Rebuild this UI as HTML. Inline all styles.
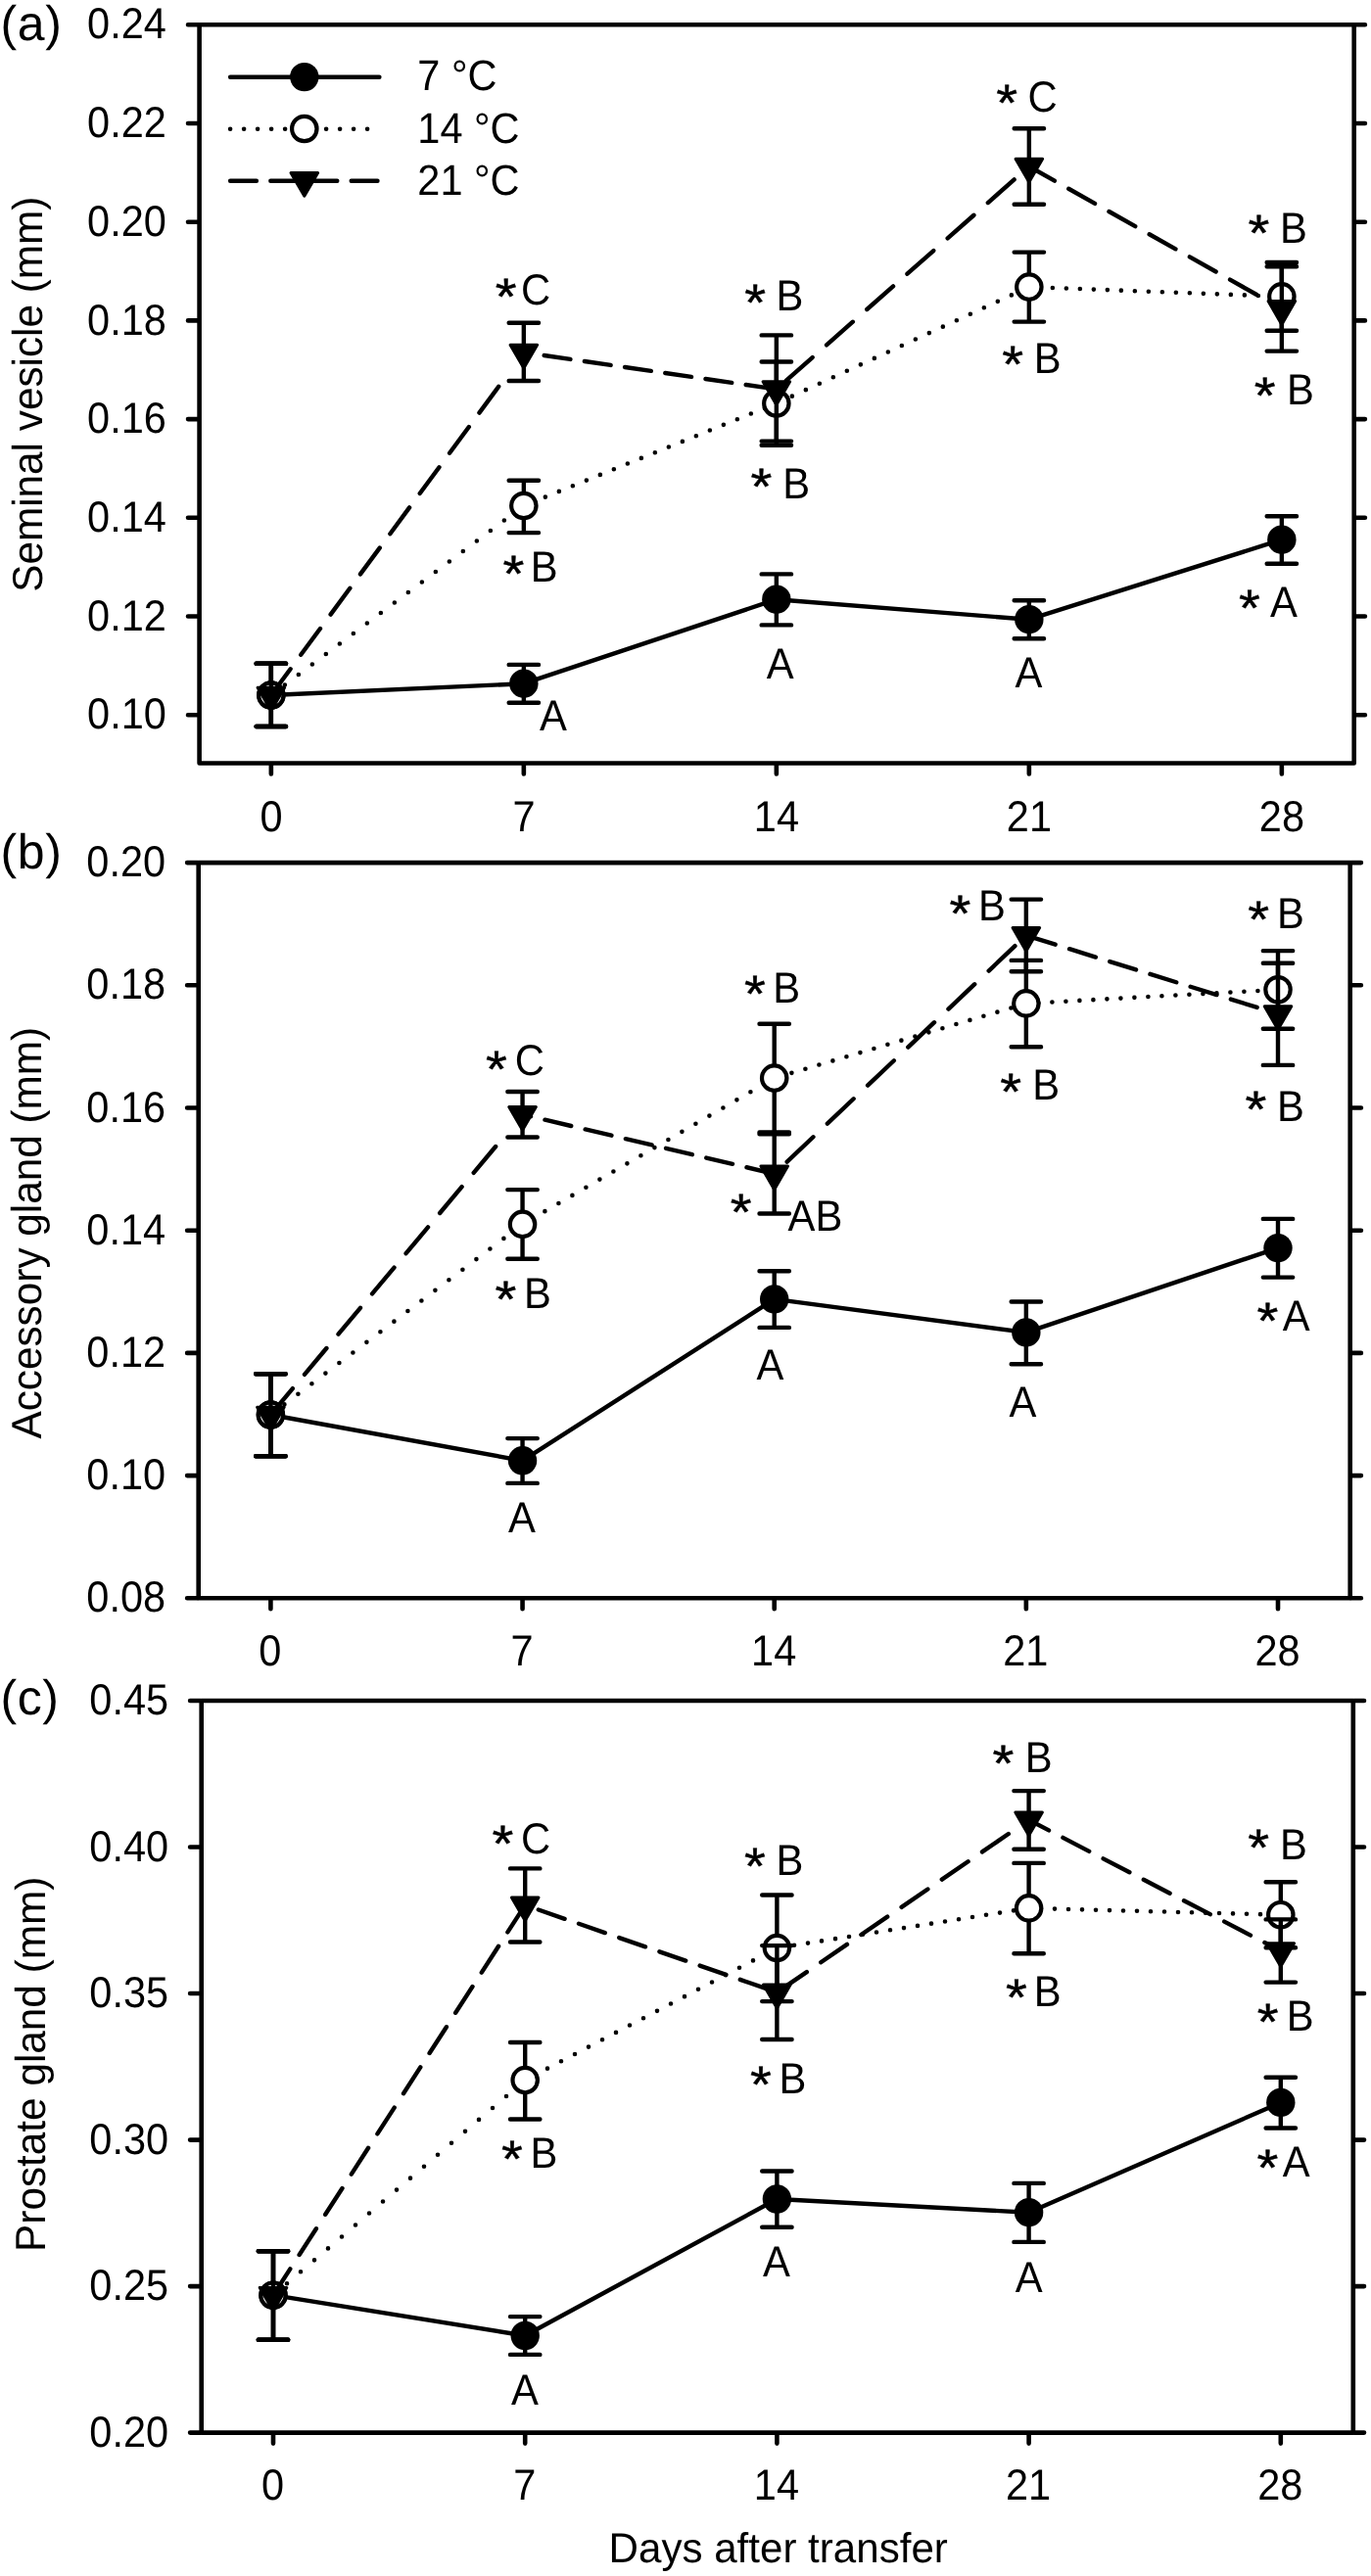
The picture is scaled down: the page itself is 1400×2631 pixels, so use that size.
<!DOCTYPE html>
<html lang="en"><head><meta charset="utf-8"><title>Figure</title>
<style>html,body{margin:0;padding:0;background:#fff}body{width:1400px;height:2631px;overflow:hidden}svg{display:block;will-change:transform}text{font-family:'Liberation Sans', sans-serif;fill:#000;-webkit-font-smoothing:antialiased;text-rendering:geometricPrecision}</style>
</head><body>
<svg width="1400" height="2631" viewBox="0 0 1400 2631">
<rect width="1400" height="2631" fill="#fff"/>
<g id="panel-a">
<g stroke="#000" fill="#000" stroke-width="4.4" stroke-linecap="round" stroke-linejoin="round">
<polyline fill="none" points="276.85,710 534.85,698.2 792.85,612.2 1050.85,632.7 1308.85,551.2"/>
<g fill="none">
<path d="M276.85 677.8V742M261.65 677.8H292.05M261.65 742H292.05"/>
<path d="M534.85 678.9V717.8M519.65 678.9H550.05M519.65 717.8H550.05"/>
<path d="M792.85 586.4V638.4M777.65 586.4H808.05M777.65 638.4H808.05"/>
<path d="M1050.85 613.2V652.3M1035.65 613.2H1066.05M1035.65 652.3H1066.05"/>
<path d="M1308.85 527.2V575.7M1293.65 527.2H1324.05M1293.65 575.7H1324.05"/>
</g>
<g stroke="none">
<circle cx="276.85" cy="710" r="14.7"/>
<circle cx="534.85" cy="698.2" r="14.7"/>
<circle cx="792.85" cy="612.2" r="14.7"/>
<circle cx="1050.85" cy="632.7" r="14.7"/>
<circle cx="1308.85" cy="551.2" r="14.7"/>
</g>
<path fill="none" stroke-width="4.6" d="M276.85 710h.01M290.85 699.5h.01M304.85 689h.01M318.85 678.5h.01M332.85 668h.01M346.85 657.5h.01M360.85 647h.01M374.85 636.5h.01M388.85 626h.01M402.85 615.5h.01M416.85 605h.01M430.85 594.5h.01M444.85 584h.01M458.85 573.5h.01M472.85 563h.01M486.85 552.5h.01M500.85 542h.01M514.85 531.5h.01M528.85 521h.01M542.85 513.26h.01M556.85 507.59h.01M570.85 501.92h.01M584.85 496.25h.01M598.85 490.58h.01M612.85 484.91h.01M626.85 479.24h.01M640.85 473.57h.01M654.85 467.9h.01M668.85 462.22h.01M682.85 456.55h.01M696.85 450.88h.01M710.85 445.21h.01M724.85 439.54h.01M738.85 433.87h.01M752.85 428.2h.01M766.85 422.53h.01M780.85 416.86h.01M794.85 411.08h.01M808.85 404.63h.01M822.85 398.17h.01M836.85 391.72h.01M850.85 385.27h.01M864.85 378.82h.01M878.85 372.37h.01M892.85 365.91h.01M906.85 359.46h.01M920.85 353.01h.01M934.85 346.56h.01M948.85 340.11h.01M962.85 333.66h.01M976.85 327.2h.01M990.85 320.75h.01M1004.85 314.3h.01M1018.85 307.85h.01M1032.85 301.4h.01M1046.85 294.94h.01M1060.85 293.48h.01M1074.85 294.01h.01M1088.85 294.54h.01M1102.85 295.07h.01M1116.85 295.59h.01M1130.85 296.12h.01M1144.85 296.65h.01M1158.85 297.18h.01M1172.85 297.71h.01M1186.85 298.24h.01M1200.85 298.77h.01M1214.85 299.3h.01M1228.85 299.83h.01M1242.85 300.36h.01M1256.85 300.88h.01M1270.85 301.41h.01M1284.85 301.94h.01M1298.85 302.47h.01"/>
<g fill="none">
<path d="M276.85 677.8V742M261.65 677.8H292.05M261.65 742H292.05"/>
<path d="M534.85 490.7V544.1M519.65 490.7H550.05M519.65 544.1H550.05"/>
<path d="M792.85 369.5V454.7M777.65 369.5H808.05M777.65 454.7H808.05"/>
<path d="M1050.85 257.6V328.6M1035.65 257.6H1066.05M1035.65 328.6H1066.05"/>
<path d="M1308.85 268V337.7M1293.65 268H1324.05M1293.65 337.7H1324.05"/>
</g>
<g fill="#fff" stroke-width="4.2">
<circle cx="276.85" cy="710" r="12.7"/>
<circle cx="534.85" cy="516.5" r="12.7"/>
<circle cx="792.85" cy="412" r="12.7"/>
<circle cx="1050.85" cy="293.1" r="12.7"/>
<circle cx="1308.85" cy="302.85" r="12.7"/>
</g>
<path fill="none" d="M276.85 710L296.61 683.2M307.22 668.8L326.98 642M337.59 627.6L357.35 600.8M367.96 586.4L387.72 559.6M398.33 545.2L418.09 518.4M428.7 504L448.46 477.2M459.07 462.8L478.83 436M489.44 421.6L509.2 394.8M534.85 360L541.25 360.93M555.65 363.02L582.45 366.92M596.85 369.01L623.65 372.91M638.05 375L664.85 378.9M679.25 380.99L706.05 384.88M720.45 386.98L747.25 390.87M761.65 392.97L788.45 396.86M802.85 388.68L829.65 365.05M844.05 352.35L870.85 328.72M885.25 316.02L912.05 292.39M926.45 279.69L953.25 256.06M967.65 243.36L994.45 219.73M1008.85 207.03L1035.65 183.4M1050.85 170L1076.85 184.65M1091.25 192.77L1118.05 207.87M1132.45 215.99L1159.25 231.09M1173.65 239.21L1200.45 254.31M1214.85 262.42L1241.65 277.53M1256.05 285.64L1282.85 300.75M1297.25 308.86L1308.85 315.4"/>
<g fill="none">
<path d="M276.85 677.8V742M261.65 677.8H292.05M261.65 742H292.05"/>
<path d="M534.85 329.8V389M519.65 329.8H550.05M519.65 389H550.05"/>
<path d="M792.85 342.4V450.6M777.65 342.4H808.05M777.65 450.6H808.05"/>
<path d="M1050.85 131.2V208.7M1035.65 131.2H1066.05M1035.65 208.7H1066.05"/>
<path d="M1308.85 272.2V358.6M1293.65 272.2H1324.05M1293.65 358.6H1324.05"/>
</g>
<g stroke-width="3" stroke-linejoin="round">
<path d="M263.05 702.2L290.65 702.2L276.85 726Z"/>
<path d="M521.05 352.2L548.65 352.2L534.85 376Z"/>
<path d="M779.05 389.7L806.65 389.7L792.85 413.5Z"/>
<path d="M1037.05 162.2L1064.65 162.2L1050.85 186Z"/>
<path d="M1295.05 307.6L1322.65 307.6L1308.85 331.4Z"/>
</g>
</g>
<rect x="203.6" y="25.3" width="1179.1" height="754.2" fill="none" stroke="#000" stroke-width="4.6" stroke-linejoin="round"/>
<path d="M202.6 25.3H192M1383.7 25.3H1393.9M202.6 126H192M1383.7 126H1393.9M202.6 226.7H192M1383.7 226.7H1393.9M202.6 327.4H192M1383.7 327.4H1393.9M202.6 428.1H192M1383.7 428.1H1393.9M202.6 528.8H192M1383.7 528.8H1393.9M202.6 629.5H192M1383.7 629.5H1393.9M202.6 730.2H192M1383.7 730.2H1393.9M276.85 780.5V790.5M534.85 780.5V790.5M792.85 780.5V790.5M1050.85 780.5V790.5M1308.85 780.5V790.5" fill="none" stroke="#000" stroke-width="4.6" stroke-linecap="round"/>
<text transform="translate(169.9 39.4) scale(1 1.07)" font-size="41.5" text-anchor="end">0.24</text>
<text transform="translate(169.9 140.1) scale(1 1.07)" font-size="41.5" text-anchor="end">0.22</text>
<text transform="translate(169.9 240.8) scale(1 1.07)" font-size="41.5" text-anchor="end">0.20</text>
<text transform="translate(169.9 341.5) scale(1 1.07)" font-size="41.5" text-anchor="end">0.18</text>
<text transform="translate(169.9 442.2) scale(1 1.07)" font-size="41.5" text-anchor="end">0.16</text>
<text transform="translate(169.9 542.9) scale(1 1.07)" font-size="41.5" text-anchor="end">0.14</text>
<text transform="translate(169.9 643.6) scale(1 1.07)" font-size="41.5" text-anchor="end">0.12</text>
<text transform="translate(169.9 744.3) scale(1 1.07)" font-size="41.5" text-anchor="end">0.10</text>
<text transform="translate(276.95 848.8) scale(1 1.07)" font-size="41.5" text-anchor="middle">0</text>
<text transform="translate(534.95 848.8) scale(1 1.07)" font-size="41.5" text-anchor="middle">7</text>
<text transform="translate(792.95 848.8) scale(1 1.07)" font-size="41.5" text-anchor="middle">14</text>
<text transform="translate(1050.95 848.8) scale(1 1.07)" font-size="41.5" text-anchor="middle">21</text>
<text transform="translate(1308.95 848.8) scale(1 1.07)" font-size="41.5" text-anchor="middle">28</text>
<text x="0.5" y="40.8" font-size="50" letter-spacing="0.6">(a)</text>
<text transform="translate(42.5 402.7) rotate(-90) scale(1 1.02)" font-size="42.3" text-anchor="middle">Seminal vesicle (mm)</text>
<text transform="translate(505.7 320.8) scale(1.02 0.956)" font-size="55" stroke="#000" stroke-width="0.5">*</text>
<text transform="translate(532 311.3) scale(1 1.06)" font-size="41.8">C</text>
<text transform="translate(513.5 604.3) scale(1.02 0.956)" font-size="55" stroke="#000" stroke-width="0.5">*</text>
<text transform="translate(541.7 594.4) scale(1 1.06)" font-size="41.8">B</text>
<text transform="translate(550.9 745.5) scale(1 1.06)" font-size="41.8">A</text>
<text transform="translate(760.3 327) scale(1.02 0.956)" font-size="55" stroke="#000" stroke-width="0.5">*</text>
<text transform="translate(792.5 317.2) scale(1 1.06)" font-size="41.8">B</text>
<text transform="translate(766.4 515.1) scale(1.02 0.956)" font-size="55" stroke="#000" stroke-width="0.5">*</text>
<text transform="translate(799.2 508.7) scale(1 1.06)" font-size="41.8">B</text>
<text transform="translate(782.7 693.3) scale(1 1.06)" font-size="41.8">A</text>
<text transform="translate(1017.2 123.2) scale(1.02 0.956)" font-size="55" stroke="#000" stroke-width="0.5">*</text>
<text transform="translate(1049.6 114.4) scale(1 1.06)" font-size="41.8">C</text>
<text transform="translate(1023.3 389.5) scale(1.02 0.956)" font-size="55" stroke="#000" stroke-width="0.5">*</text>
<text transform="translate(1055.7 380.8) scale(1 1.06)" font-size="41.8">B</text>
<text transform="translate(1036.5 702.4) scale(1 1.06)" font-size="41.8">A</text>
<text transform="translate(1274.4 256.4) scale(1.02 0.956)" font-size="55" stroke="#000" stroke-width="0.5">*</text>
<text transform="translate(1306.9 247.9) scale(1 1.06)" font-size="41.8">B</text>
<text transform="translate(1280.8 422.3) scale(1.02 0.956)" font-size="55" stroke="#000" stroke-width="0.5">*</text>
<text transform="translate(1313.9 412.9) scale(1 1.06)" font-size="41.8">B</text>
<text transform="translate(1265 638.8) scale(1.02 0.956)" font-size="55" stroke="#000" stroke-width="0.5">*</text>
<text transform="translate(1297 629.8) scale(1 1.06)" font-size="41.8">A</text>
</g>
<g id="panel-b">
<g stroke="#000" fill="#000" stroke-width="4.4" stroke-linecap="round" stroke-linejoin="round">
<polyline fill="none" points="276.4,1445 533.55,1491.8 790.7,1326.9 1047.85,1360.9 1305,1274.6"/>
<g fill="none">
<path d="M276.4 1403.2V1487.3M261.2 1403.2H291.6M261.2 1487.3H291.6"/>
<path d="M533.55 1469.1V1514.9M518.35 1469.1H548.75M518.35 1514.9H548.75"/>
<path d="M790.7 1298.2V1355.9M775.5 1298.2H805.9M775.5 1355.9H805.9"/>
<path d="M1047.85 1329.5V1393.2M1032.65 1329.5H1063.05M1032.65 1393.2H1063.05"/>
<path d="M1305 1244.9V1304.6M1289.8 1244.9H1320.2M1289.8 1304.6H1320.2"/>
</g>
<g stroke="none">
<circle cx="276.4" cy="1445" r="14.7"/>
<circle cx="533.55" cy="1491.8" r="14.7"/>
<circle cx="790.7" cy="1326.9" r="14.7"/>
<circle cx="1047.85" cy="1360.9" r="14.7"/>
<circle cx="1305" cy="1274.6" r="14.7"/>
</g>
<path fill="none" stroke-width="4.6" d="M276.4 1445h.01M290.4 1434.41h.01M304.4 1423.81h.01M318.4 1413.22h.01M332.4 1402.62h.01M346.4 1392.03h.01M360.4 1381.43h.01M374.4 1370.84h.01M388.4 1360.24h.01M402.4 1349.65h.01M416.4 1339.05h.01M430.4 1328.46h.01M444.4 1317.86h.01M458.4 1307.27h.01M472.4 1296.68h.01M486.4 1286.08h.01M500.4 1275.49h.01M514.4 1264.89h.01M528.4 1254.3h.01M542.4 1245.26h.01M556.4 1237.13h.01M570.4 1229.01h.01M584.4 1220.88h.01M598.4 1212.75h.01M612.4 1204.62h.01M626.4 1196.49h.01M640.4 1188.36h.01M654.4 1180.24h.01M668.4 1172.11h.01M682.4 1163.98h.01M696.4 1155.85h.01M710.4 1147.72h.01M724.4 1139.59h.01M738.4 1131.47h.01M752.4 1123.34h.01M766.4 1115.21h.01M780.4 1107.08h.01M794.4 1100h.01M808.4 1095.86h.01M822.4 1091.71h.01M836.4 1087.56h.01M850.4 1083.41h.01M864.4 1079.26h.01M878.4 1075.11h.01M892.4 1070.96h.01M906.4 1066.82h.01M920.4 1062.67h.01M934.4 1058.52h.01M948.4 1054.37h.01M962.4 1050.22h.01M976.4 1046.07h.01M990.4 1041.92h.01M1004.4 1037.78h.01M1018.4 1033.63h.01M1032.4 1029.48h.01M1046.4 1025.33h.01M1060.4 1024.21h.01M1074.4 1023.44h.01M1088.4 1022.68h.01M1102.4 1021.91h.01M1116.4 1021.14h.01M1130.4 1020.37h.01M1144.4 1019.61h.01M1158.4 1018.84h.01M1172.4 1018.07h.01M1186.4 1017.3h.01M1200.4 1016.54h.01M1214.4 1015.77h.01M1228.4 1015h.01M1242.4 1014.23h.01M1256.4 1013.46h.01M1270.4 1012.7h.01M1284.4 1011.93h.01M1298.4 1011.16h.01"/>
<g fill="none">
<path d="M276.4 1403.2V1487.3M261.2 1403.2H291.6M261.2 1487.3H291.6"/>
<path d="M533.55 1215.1V1285.7M518.35 1215.1H548.75M518.35 1285.7H548.75"/>
<path d="M790.7 1045.8V1156.4M775.5 1045.8H805.9M775.5 1156.4H805.9"/>
<path d="M1047.85 980.9V1069.2M1032.65 980.9H1063.05M1032.65 1069.2H1063.05"/>
<path d="M1305 971.1V1050.7M1289.8 971.1H1320.2M1289.8 1050.7H1320.2"/>
</g>
<g fill="#fff" stroke-width="4.2">
<circle cx="276.4" cy="1445" r="12.7"/>
<circle cx="533.55" cy="1250.4" r="12.7"/>
<circle cx="790.7" cy="1101.1" r="12.7"/>
<circle cx="1047.85" cy="1024.9" r="12.7"/>
<circle cx="1305" cy="1010.8" r="12.7"/>
</g>
<path fill="none" d="M276.4 1445L298.87 1418.2M310.94 1403.8L333.41 1377M345.49 1362.6L367.96 1335.8M380.03 1321.4L402.5 1294.6M414.58 1280.2L437.05 1253.4M449.12 1239L471.59 1212.2M483.66 1197.8L506.13 1171M533.55 1138.3L542.05 1140.3M556.45 1143.7L583.25 1150.01M597.65 1153.41L624.45 1159.72M638.85 1163.12L665.65 1169.43M680.05 1172.82L706.85 1179.14M721.25 1182.53L748.05 1188.85M762.45 1192.24L789.25 1198.56M803.65 1186.64L830.45 1161.26M844.85 1147.62L871.65 1122.25M886.05 1108.61L912.85 1083.23M927.25 1069.6L954.05 1044.22M968.45 1030.59L995.25 1005.21M1009.65 991.57L1036.45 966.19M1050.85 956.34L1077.65 964.69M1092.05 969.19L1118.85 977.54M1133.25 982.03L1160.05 990.39M1174.45 994.88L1201.25 1003.24M1215.65 1007.73L1242.45 1016.09M1256.85 1020.58L1283.65 1028.94M1298.05 1033.43L1305 1035.6"/>
<g fill="none">
<path d="M276.4 1403.2V1487.3M261.2 1403.2H291.6M261.2 1487.3H291.6"/>
<path d="M533.55 1115V1161.5M518.35 1115H548.75M518.35 1161.5H548.75"/>
<path d="M790.7 1158.2V1239.5M775.5 1158.2H805.9M775.5 1239.5H805.9"/>
<path d="M1047.85 918.6V992.2M1032.65 918.6H1063.05M1032.65 992.2H1063.05"/>
<path d="M1305 983.8V1087.9M1289.8 983.8H1320.2M1289.8 1087.9H1320.2"/>
</g>
<g stroke-width="3" stroke-linejoin="round">
<path d="M262.6 1437.2L290.2 1437.2L276.4 1461Z"/>
<path d="M519.75 1130.5L547.35 1130.5L533.55 1154.3Z"/>
<path d="M776.9 1191.1L804.5 1191.1L790.7 1214.9Z"/>
<path d="M1034.05 947.6L1061.65 947.6L1047.85 971.4Z"/>
<path d="M1291.2 1027.8L1318.8 1027.8L1305 1051.6Z"/>
</g>
</g>
<rect x="202.7" y="881.1" width="1176" height="751.2" fill="none" stroke="#000" stroke-width="4.6" stroke-linejoin="round"/>
<path d="M201.7 881.1H191.1M1379.7 881.1H1389.9M201.7 1006.3H191.1M1379.7 1006.3H1389.9M201.7 1131.5H191.1M1379.7 1131.5H1389.9M201.7 1256.7H191.1M1379.7 1256.7H1389.9M201.7 1381.9H191.1M1379.7 1381.9H1389.9M201.7 1507.1H191.1M1379.7 1507.1H1389.9M201.7 1632.3H191.1M1379.7 1632.3H1389.9M276.4 1633.3V1643.3M533.55 1633.3V1643.3M790.7 1633.3V1643.3M1047.85 1633.3V1643.3M1305 1633.3V1643.3" fill="none" stroke="#000" stroke-width="4.6" stroke-linecap="round"/>
<text transform="translate(169.1 895.2) scale(1 1.07)" font-size="41.5" text-anchor="end">0.20</text>
<text transform="translate(169.1 1020.4) scale(1 1.07)" font-size="41.5" text-anchor="end">0.18</text>
<text transform="translate(169.1 1145.6) scale(1 1.07)" font-size="41.5" text-anchor="end">0.16</text>
<text transform="translate(169.1 1270.8) scale(1 1.07)" font-size="41.5" text-anchor="end">0.14</text>
<text transform="translate(169.1 1396) scale(1 1.07)" font-size="41.5" text-anchor="end">0.12</text>
<text transform="translate(169.1 1521.2) scale(1 1.07)" font-size="41.5" text-anchor="end">0.10</text>
<text transform="translate(169.1 1646.4) scale(1 1.07)" font-size="41.5" text-anchor="end">0.08</text>
<text transform="translate(275.9 1700.9) scale(1 1.07)" font-size="41.5" text-anchor="middle">0</text>
<text transform="translate(533.05 1700.9) scale(1 1.07)" font-size="41.5" text-anchor="middle">7</text>
<text transform="translate(790.2 1700.9) scale(1 1.07)" font-size="41.5" text-anchor="middle">14</text>
<text transform="translate(1047.35 1700.9) scale(1 1.07)" font-size="41.5" text-anchor="middle">21</text>
<text transform="translate(1304.5 1700.9) scale(1 1.07)" font-size="41.5" text-anchor="middle">28</text>
<text x="0.5" y="886.5" font-size="50" letter-spacing="0.6">(b)</text>
<text transform="translate(42.3 1259.2) rotate(-90) scale(1 1.02)" font-size="42.3" text-anchor="middle">Accessory gland (mm)</text>
<text transform="translate(496 1109.8) scale(1.02 0.956)" font-size="55" stroke="#000" stroke-width="0.5">*</text>
<text transform="translate(525.7 1097.6) scale(1 1.06)" font-size="41.8">C</text>
<text transform="translate(505.6 1344.9) scale(1.02 0.956)" font-size="55" stroke="#000" stroke-width="0.5">*</text>
<text transform="translate(535.1 1335.5) scale(1 1.06)" font-size="41.8">B</text>
<text transform="translate(518.9 1564.8) scale(1 1.06)" font-size="41.8">A</text>
<text transform="translate(760 1033.2) scale(1.02 0.956)" font-size="55" stroke="#000" stroke-width="0.5">*</text>
<text transform="translate(789.2 1024.2) scale(1 1.06)" font-size="41.8">B</text>
<text transform="translate(745.7 1256.4) scale(1.02 0.956)" font-size="55" stroke="#000" stroke-width="0.5">*</text>
<text transform="translate(804.6 1256.7) scale(1 1.06)" font-size="41.8">AB</text>
<text transform="translate(772.6 1408.8) scale(1 1.06)" font-size="41.8">A</text>
<text transform="translate(969.5 950.7) scale(1.02 0.956)" font-size="55" stroke="#000" stroke-width="0.5">*</text>
<text transform="translate(998.9 940.2) scale(1 1.06)" font-size="41.8">B</text>
<text transform="translate(1021.3 1133) scale(1.02 0.956)" font-size="55" stroke="#000" stroke-width="0.5">*</text>
<text transform="translate(1054.3 1122.7) scale(1 1.06)" font-size="41.8">B</text>
<text transform="translate(1030.5 1447.1) scale(1 1.06)" font-size="41.8">A</text>
<text transform="translate(1274.3 956.7) scale(1.02 0.956)" font-size="55" stroke="#000" stroke-width="0.5">*</text>
<text transform="translate(1303.9 947.9) scale(1 1.06)" font-size="41.8">B</text>
<text transform="translate(1271.4 1150.6) scale(1.02 0.956)" font-size="55" stroke="#000" stroke-width="0.5">*</text>
<text transform="translate(1303.9 1145.4) scale(1 1.06)" font-size="41.8">B</text>
<text transform="translate(1283.5 1366.8) scale(1.02 0.956)" font-size="55" stroke="#000" stroke-width="0.5">*</text>
<text transform="translate(1309.7 1358.6) scale(1 1.06)" font-size="41.8">A</text>
</g>
<g id="panel-c">
<g stroke="#000" fill="#000" stroke-width="4.4" stroke-linecap="round" stroke-linejoin="round">
<polyline fill="none" points="279,2344.2 536.2,2385.5 793.4,2246 1050.6,2259.7 1307.8,2147.4"/>
<g fill="none">
<path d="M279 2299.2V2389.8M263.8 2299.2H294.2M263.8 2389.8H294.2"/>
<path d="M536.2 2366.1V2404.9M521 2366.1H551.4M521 2404.9H551.4"/>
<path d="M793.4 2217.5V2274.7M778.2 2217.5H808.6M778.2 2274.7H808.6"/>
<path d="M1050.6 2229.9V2289.9M1035.4 2229.9H1065.8M1035.4 2289.9H1065.8"/>
<path d="M1307.8 2121.8V2173.5M1292.6 2121.8H1323M1292.6 2173.5H1323"/>
</g>
<g stroke="none">
<circle cx="279" cy="2344.2" r="14.7"/>
<circle cx="536.2" cy="2385.5" r="14.7"/>
<circle cx="793.4" cy="2246" r="14.7"/>
<circle cx="1050.6" cy="2259.7" r="14.7"/>
<circle cx="1307.8" cy="2147.4" r="14.7"/>
</g>
<path fill="none" stroke-width="4.6" d="M279 2344.2h.01M293 2332.25h.01M307 2320.29h.01M321 2308.34h.01M335 2296.39h.01M349 2284.43h.01M363 2272.48h.01M377 2260.53h.01M391 2248.57h.01M405 2236.62h.01M419 2224.67h.01M433 2212.71h.01M447 2200.76h.01M461 2188.81h.01M475 2176.85h.01M489 2164.9h.01M503 2152.95h.01M517 2140.99h.01M531 2129.04h.01M545 2119.98h.01M559 2112.63h.01M573 2105.28h.01M587 2097.94h.01M601 2090.59h.01M615 2083.24h.01M629 2075.89h.01M643 2068.54h.01M657 2061.19h.01M671 2053.85h.01M685 2046.5h.01M699 2039.15h.01M713 2031.8h.01M727 2024.45h.01M741 2017.1h.01M755 2009.76h.01M769 2002.41h.01M783 1995.06h.01M797 1989.03h.01M811 1986.81h.01M825 1984.6h.01M839 1982.38h.01M853 1980.17h.01M867 1977.95h.01M881 1975.74h.01M895 1973.52h.01M909 1971.31h.01M923 1969.09h.01M937 1966.88h.01M951 1964.66h.01M965 1962.45h.01M979 1960.23h.01M993 1958.01h.01M1007 1955.8h.01M1021 1953.58h.01M1035 1951.37h.01M1049 1949.15h.01M1063 1949.23h.01M1077 1949.6h.01M1091 1949.97h.01M1105 1950.34h.01M1119 1950.71h.01M1133 1951.08h.01M1147 1951.45h.01M1161 1951.82h.01M1175 1952.19h.01M1189 1952.56h.01M1203 1952.93h.01M1217 1953.3h.01M1231 1953.67h.01M1245 1954.04h.01M1259 1954.41h.01M1273 1954.78h.01M1287 1955.15h.01M1301 1955.52h.01"/>
<g fill="none">
<path d="M279 2299.2V2389.8M263.8 2299.2H294.2M263.8 2389.8H294.2"/>
<path d="M536.2 2086V2164.5M521 2086H551.4M521 2164.5H551.4"/>
<path d="M793.4 1935.5V2044.1M778.2 1935.5H808.6M778.2 2044.1H808.6"/>
<path d="M1050.6 1902.9V1995.2M1035.4 1902.9H1065.8M1035.4 1995.2H1065.8"/>
<path d="M1307.8 1922.2V1989.2M1292.6 1922.2H1323M1292.6 1989.2H1323"/>
</g>
<g fill="#fff" stroke-width="4.2">
<circle cx="279" cy="2344.2" r="12.7"/>
<circle cx="536.2" cy="2124.6" r="12.7"/>
<circle cx="793.4" cy="1989.6" r="12.7"/>
<circle cx="1050.6" cy="1948.9" r="12.7"/>
<circle cx="1307.8" cy="1955.7" r="12.7"/>
</g>
<path fill="none" d="M279 2344.2L296.3 2317.4M305.6 2303L322.9 2276.2M332.2 2261.8L349.5 2235M358.79 2220.6L376.1 2193.8M385.39 2179.4L402.69 2152.6M411.99 2138.2L429.29 2111.4M438.59 2097L455.89 2070.2M465.19 2055.8L482.49 2029M491.78 2014.6L509.09 1987.8M518.38 1973.4L535.68 1946.6M549.8 1950.51L576.6 1959.8M591 1964.78L617.8 1974.07M632.2 1979.06L659 1988.34M673.4 1993.33L700.2 2002.61M714.6 2007.6L741.4 2016.89M755.8 2021.87L782.6 2031.16M797 2032.44L823.8 2014.09M838.2 2004.23L865 1985.88M879.4 1976.02L906.2 1957.67M920.6 1947.81L947.4 1929.46M961.8 1919.6L988.6 1901.25M1003 1891.39L1029.8 1873.04M1050.6 1858.8L1071 1869.41M1085.4 1876.9L1112.2 1890.85M1126.6 1898.34L1153.4 1912.28M1167.8 1919.77L1194.6 1933.71M1209 1941.2L1235.8 1955.14M1250.2 1962.64L1277 1976.58M1291.4 1984.07L1307.8 1992.6"/>
<g fill="none">
<path d="M279 2299.2V2389.8M263.8 2299.2H294.2M263.8 2389.8H294.2"/>
<path d="M536.2 1908.4V1983.5M521 1908.4H551.4M521 1983.5H551.4"/>
<path d="M793.4 1987.1V2083M778.2 1987.1H808.6M778.2 2083H808.6"/>
<path d="M1050.6 1829.1V1888.8M1035.4 1829.1H1065.8M1035.4 1888.8H1065.8"/>
<path d="M1307.8 1960.4V2024.6M1292.6 1960.4H1323M1292.6 2024.6H1323"/>
</g>
<g stroke-width="3" stroke-linejoin="round">
<path d="M265.2 2336.4L292.8 2336.4L279 2360.2Z"/>
<path d="M522.4 1938L550 1938L536.2 1961.8Z"/>
<path d="M779.6 2027.1L807.2 2027.1L793.4 2050.9Z"/>
<path d="M1036.8 1851L1064.4 1851L1050.6 1874.8Z"/>
<path d="M1294 1984.8L1321.6 1984.8L1307.8 2008.6Z"/>
</g>
</g>
<rect x="205.7" y="1737" width="1176.1" height="747.6" fill="none" stroke="#000" stroke-width="4.6" stroke-linejoin="round"/>
<path d="M204.7 1737H194.1M1382.8 1737H1393M204.7 1886.5H194.1M1382.8 1886.5H1393M204.7 2036H194.1M1382.8 2036H1393M204.7 2185.6H194.1M1382.8 2185.6H1393M204.7 2335.1H194.1M1382.8 2335.1H1393M204.7 2484.6H194.1M1382.8 2484.6H1393M279 2485.6V2495.6M536.2 2485.6V2495.6M793.4 2485.6V2495.6M1050.6 2485.6V2495.6M1307.8 2485.6V2495.6" fill="none" stroke="#000" stroke-width="4.6" stroke-linecap="round"/>
<text transform="translate(172.1 1751.1) scale(1 1.07)" font-size="41.5" text-anchor="end">0.45</text>
<text transform="translate(172.1 1900.6) scale(1 1.07)" font-size="41.5" text-anchor="end">0.40</text>
<text transform="translate(172.1 2050.1) scale(1 1.07)" font-size="41.5" text-anchor="end">0.35</text>
<text transform="translate(172.1 2199.7) scale(1 1.07)" font-size="41.5" text-anchor="end">0.30</text>
<text transform="translate(172.1 2349.2) scale(1 1.07)" font-size="41.5" text-anchor="end">0.25</text>
<text transform="translate(172.1 2498.7) scale(1 1.07)" font-size="41.5" text-anchor="end">0.20</text>
<text transform="translate(278.5 2552.7) scale(1 1.07)" font-size="41.5" text-anchor="middle">0</text>
<text transform="translate(535.7 2552.7) scale(1 1.07)" font-size="41.5" text-anchor="middle">7</text>
<text transform="translate(792.9 2552.7) scale(1 1.07)" font-size="41.5" text-anchor="middle">14</text>
<text transform="translate(1050.1 2552.7) scale(1 1.07)" font-size="41.5" text-anchor="middle">21</text>
<text transform="translate(1307.3 2552.7) scale(1 1.07)" font-size="41.5" text-anchor="middle">28</text>
<text x="0.5" y="1751" font-size="50" letter-spacing="0.6">(c)</text>
<text transform="translate(45.5 2108.3) rotate(-90) scale(1 1.02)" font-size="42.3" text-anchor="middle">Prostate gland (mm)</text>
<text transform="translate(502.5 1901.4) scale(1.02 0.956)" font-size="55" stroke="#000" stroke-width="0.5">*</text>
<text transform="translate(531.9 1893.4) scale(1 1.06)" font-size="41.8">C</text>
<text transform="translate(512 2222.5) scale(1.02 0.956)" font-size="55" stroke="#000" stroke-width="0.5">*</text>
<text transform="translate(541.6 2214.4) scale(1 1.06)" font-size="41.8">B</text>
<text transform="translate(521.9 2455.7) scale(1 1.06)" font-size="41.8">A</text>
<text transform="translate(759.9 1923.7) scale(1.02 0.956)" font-size="55" stroke="#000" stroke-width="0.5">*</text>
<text transform="translate(792.4 1914.5) scale(1 1.06)" font-size="41.8">B</text>
<text transform="translate(765.9 2146.5) scale(1.02 0.956)" font-size="55" stroke="#000" stroke-width="0.5">*</text>
<text transform="translate(795.5 2138) scale(1 1.06)" font-size="41.8">B</text>
<text transform="translate(779.1 2325.3) scale(1 1.06)" font-size="41.8">A</text>
<text transform="translate(1013.5 1819.1) scale(1.02 0.956)" font-size="55" stroke="#000" stroke-width="0.5">*</text>
<text transform="translate(1046.8 1809.9) scale(1 1.06)" font-size="41.8">B</text>
<text transform="translate(1027 2057.6) scale(1.02 0.956)" font-size="55" stroke="#000" stroke-width="0.5">*</text>
<text transform="translate(1055.8 2048.7) scale(1 1.06)" font-size="41.8">B</text>
<text transform="translate(1036.8 2341.4) scale(1 1.06)" font-size="41.8">A</text>
<text transform="translate(1274.2 1905) scale(1.02 0.956)" font-size="55" stroke="#000" stroke-width="0.5">*</text>
<text transform="translate(1307 1899) scale(1 1.06)" font-size="41.8">B</text>
<text transform="translate(1283.7 2082.7) scale(1.02 0.956)" font-size="55" stroke="#000" stroke-width="0.5">*</text>
<text transform="translate(1313.8 2073.8) scale(1 1.06)" font-size="41.8">B</text>
<text transform="translate(1283.5 2232.2) scale(1.02 0.956)" font-size="55" stroke="#000" stroke-width="0.5">*</text>
<text transform="translate(1309.7 2223.4) scale(1 1.06)" font-size="41.8">A</text>
</g>
<g id="legend" stroke="#000" fill="#000" stroke-width="4.4" stroke-linecap="round" stroke-linejoin="round">
<path d="M235.1 78.8H387.4" fill="none"/>
<circle cx="310.8" cy="78.6" r="14.7" stroke="none"/>
<path d="M235.1 131.8h.01M249.1 131.8h.01M263.1 131.8h.01M277.1 131.8h.01M291.1 131.8h.01M305.1 131.8h.01M319.1 131.8h.01M333.1 131.8h.01M347.1 131.8h.01M361.1 131.8h.01M375.1 131.8h.01" fill="none" stroke-width="4.6"/>
<circle cx="310.8" cy="131.5" r="12.7" fill="#fff" stroke-width="4.2"/>
<path d="M235.1 184.7H387.4" fill="none" stroke-dasharray="26.8 14.4"/>
<g stroke-width="3"><path d="M297 176.5L324.6 176.5L310.8 200.3Z"/></g>
</g>
<text transform="translate(426.3 92.2) scale(1 1.057)" font-size="41.5">7 °C</text>
<text transform="translate(426.3 145.6) scale(1 1.057)" font-size="41.5">14 °C</text>
<text transform="translate(426.3 198.6) scale(1 1.057)" font-size="41.5">21 °C</text>
<text transform="translate(794.7 2617.3) scale(1 1.02)" font-size="42.1" text-anchor="middle">Days after transfer</text>
</svg>
</body></html>
